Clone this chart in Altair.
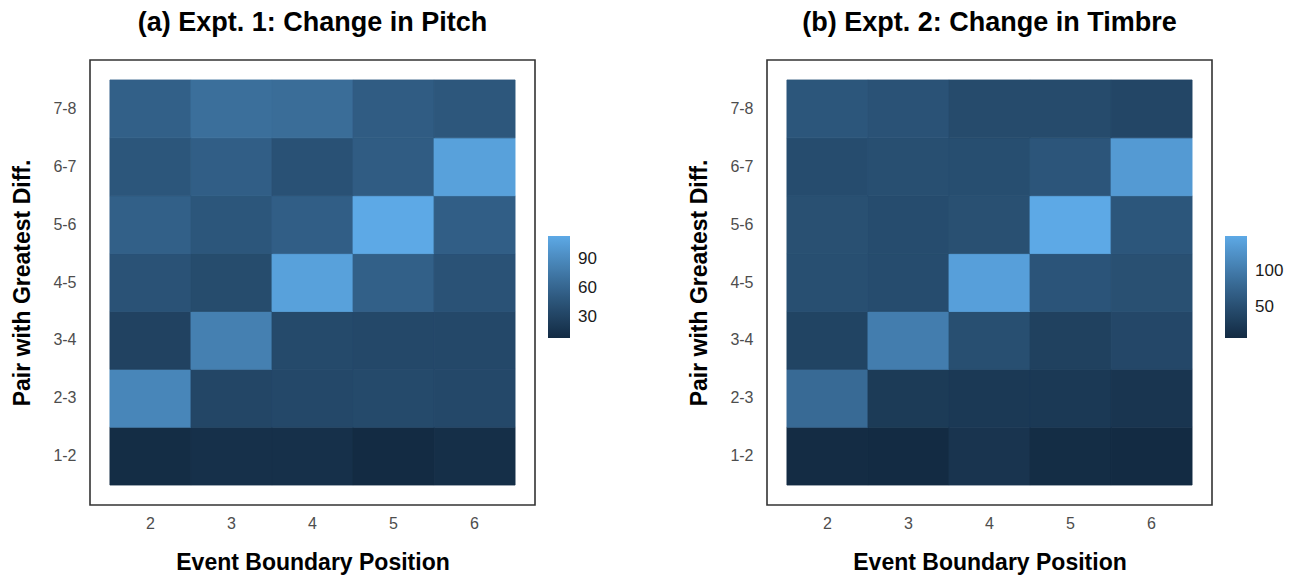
import altair as alt
import pandas as pd

positions = [2, 3, 4, 5, 6]
pairs = ["1-2", "2-3", "3-4", "4-5", "5-6", "6-7", "7-8"]

# Expt. 1 (pitch): one list per pair, values for boundary positions 2..6
pitch_12 = [9.6, 12.9, 12.9, 8.0, 12.0]
pitch_23 = [86.5, 33.1, 34.7, 36.3, 34.7]
pitch_34 = [29.8, 81.6, 36.3, 34.7, 34.7]
pitch_45 = [43.6, 37.9, 107.5, 55.7, 43.6]
pitch_56 = [55.7, 46.8, 54.1, 114.0, 54.1]
pitch_67 = [46.8, 54.1, 42.8, 52.5, 107.5]
pitch_78 = [55.7, 67.9, 66.3, 52.5, 47.6]

# Expt. 2 (timbre)
timbre_12 = [7.7, 6.6, 18.7, 8.8, 6.6]
timbre_23 = [82.4, 26.3, 24.2, 24.2, 19.8]
timbre_34 = [37.3, 103.3, 50.6, 34.0, 41.7]
timbre_45 = [50.6, 47.3, 139.5, 57.1, 51.6]
timbre_56 = [51.6, 47.3, 51.6, 149.4, 59.3]
timbre_67 = [47.3, 50.6, 49.4, 58.3, 134.0]
timbre_78 = [59.3, 54.9, 46.1, 46.1, 40.6]

pitch_rows = [pitch_12, pitch_23, pitch_34, pitch_45, pitch_56, pitch_67, pitch_78]
timbre_rows = [timbre_12, timbre_23, timbre_34, timbre_45, timbre_56, timbre_67, timbre_78]

pitch_ticks = [30, 60, 90]
timbre_ticks = [50, 100]

LOW = "#132B43"
HIGH = "#5DA9E6"
FONT = "Liberation Sans"


def make_df(rows):
    recs = []
    for pair, row in zip(pairs, rows):
        for pos, v in zip(positions, row):
            recs.append({"pos": pos, "pair": pair, "val": v, "edge": v})
    return pd.DataFrame(recs)


def panel(rows, title, ticks):
    df = make_df(rows)
    return (
        alt.Chart(
            df,
            title=alt.Title(
                title, fontSize=27, font=FONT, fontWeight="bold", color="black",
                anchor="middle", frame="group", offset=23,
            ),
        )
        .mark_rect(strokeWidth=0.8)
        .encode(
            x=alt.X(
                "pos:O",
                scale=alt.Scale(paddingInner=0, paddingOuter=0.246),
                axis=alt.Axis(
                    title="Event Boundary Position", labelAngle=0, ticks=False,
                    domain=False, grid=False, labelFontSize=16, labelColor="#4D4D4D",
                    labelFont=FONT, labelPadding=10, titleFontSize=23, titleFont=FONT,
                    titleFontWeight="bold", titleColor="black", titlePadding=20,
                ),
            ),
            y=alt.Y(
                "pair:O",
                sort="descending",
                scale=alt.Scale(paddingInner=0, paddingOuter=0.345),
                axis=alt.Axis(
                    title="Pair with Greatest Diff.", ticks=False, domain=False,
                    grid=False, labelFontSize=16, labelColor="#4D4D4D", labelFont=FONT,
                    labelPadding=14, titleFontSize=23, titleFont=FONT,
                    titleFontWeight="bold", titleColor="black", titlePadding=18,
                ),
            ),
            color=alt.Color(
                "val:Q",
                scale=alt.Scale(range=[LOW, HIGH], interpolate="lab", zero=False, nice=False),
                legend=alt.Legend(
                    title=None, orient="none", legendX=458, legendY=176,
                    direction="vertical", gradientLength=102, gradientThickness=22,
                    gradientStrokeWidth=0, values=ticks, labelFontSize=17,
                    labelFont=FONT, labelColor="#1A1A1A", labelOffset=8,
                ),
            ),
            stroke=alt.Stroke(
                "edge:Q",
                scale=alt.Scale(range=[LOW, HIGH], interpolate="lab", zero=False, nice=False),
                legend=None,
            ),
        )
        .properties(width=445, height=445)
    )


left = panel(pitch_rows, "(a) Expt. 1: Change in Pitch", pitch_ticks)
right = panel(timbre_rows, "(b) Expt. 2: Change in Timbre", timbre_ticks)

chart = (
    alt.hconcat(left, right, spacing=90)
    .resolve_scale(color="independent", stroke="independent")
    .properties(padding={"left": 3, "top": 0, "right": 5, "bottom": 0},
                background="white")
    .configure_view(stroke="#333333", strokeWidth=1.6)
)

chart.save("out.html", embed_options={"renderer": "svg", "actions": False})
